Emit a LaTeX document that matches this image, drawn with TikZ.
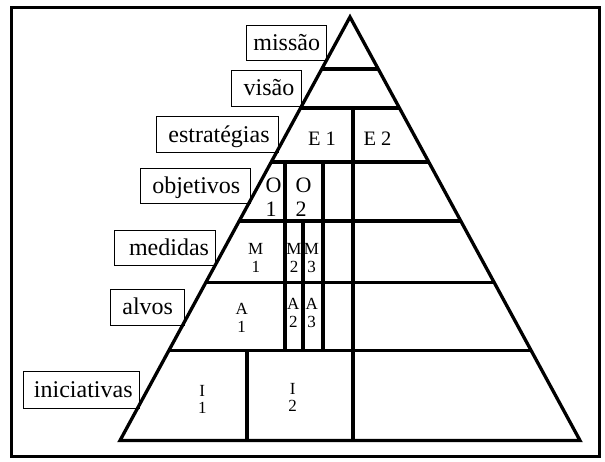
\documentclass[tikz,border=0pt]{standalone}
\usepackage{fontspec}
\setmainfont{Liberation Serif}
\begin{document}
\begin{tikzpicture}[x=1pt,y=-1pt]
\tikzset{
 lbl/.style={draw, line width=0.8pt, fill=white, inner sep=0pt, font=\fontsize{24}{26}\selectfont, text height=15.5pt, text depth=0.5pt},
 hl/.style={line width=3.3pt},
 vl/.style={line width=4pt},
 big/.style={inner sep=0pt, font=\fontsize{20.5}{24}\selectfont},
 small/.style={inner sep=0pt, align=center, font=\fontsize{17}{18}\selectfont},
 smalli/.style={inner sep=0pt, align=center, font=\fontsize{17}{17.5}\selectfont},
 ocell/.style={inner sep=0pt, align=left, anchor=west, font=\fontsize{22}{24}\selectfont},
 frame/.style={line width=3pt},
 pyr/.style={line width=3.3pt, line join=miter}
}
\useasboundingbox (0,0) rectangle (605,461);
\draw[frame] (11.5,7.5) rectangle (599,456.5);

% label boxes
\node[lbl, minimum width=80pt, minimum height=35pt] (mis) at (286.7,42.5) {missão};
\node[lbl, minimum width=70pt, minimum height=36pt] (vis) at (266.7,88) {\hspace*{4.5pt}visão};
\node[lbl, minimum width=122pt, minimum height=36pt] (est) at (217,134.7) {\hspace*{4pt}estratégias};
\node[lbl, minimum width=109.3pt, minimum height=35pt] (obj) at (195.3,185.8) {\hspace*{2pt}objetivos};
\node[lbl, minimum width=101pt, minimum height=35.7pt] (med) at (164.5,247.8) {\hspace*{9pt}medidas};
\node[lbl, minimum width=74pt, minimum height=36pt] (alv) at (147,307) {\hspace*{1.5pt}alvos};
\node[lbl, minimum width=116pt, minimum height=37pt] (ini) at (81.3,389.7) {\hspace*{4pt}iniciativas};

% pyramid
\coordinate (apex) at (350,17);
\coordinate (bl) at (120,440.5);
\coordinate (br) at (580,440.5);
\begin{scope}
\clip (apex) -- (bl) -- (br) -- cycle;
\foreach \y in {69,108,162,221,282.5,350.5} \draw[hl] (100,\y) -- (600,\y);
\end{scope}
\draw[vl] (352.7,108) -- (352.7,440.5);
\draw[vl] (285,162) -- (285,350.5);
\draw[vl] (322.7,162) -- (322.7,350.5);
\draw[vl] (302.5,221) -- (302.5,350.5);
\draw[vl] (246.7,350.5) -- (246.7,440.5);
\draw[pyr] (apex) -- (bl) -- (br) -- cycle;

% cell texts
\node[big, anchor=base] (e1) at (322,145) {E 1};
\node[big, anchor=base] (e2) at (377.5,145) {E 2};
\node[ocell] (o1) at (265.5,197) {O\\1};
\node[ocell] (o2) at (295.5,197) {O\\2};
\node[small] (m1) at (255.8,258.3) {M\\1};
\node[small] (m2) at (294,258.3) {M\\2};
\node[small] (m3) at (311.5,258.3) {M\\3};
\node[small] (a1) at (241.7,318.3) {A\\1};
\node[small] (a2) at (293.3,313.3) {A\\2};
\node[small] (a3) at (311.7,313.3) {A\\3};
\node[smalli] (i1) at (202.3,399.2) {I\\1};
\node[smalli] (i2) at (292.7,397.5) {I\\2};
\end{tikzpicture}
\end{document}
